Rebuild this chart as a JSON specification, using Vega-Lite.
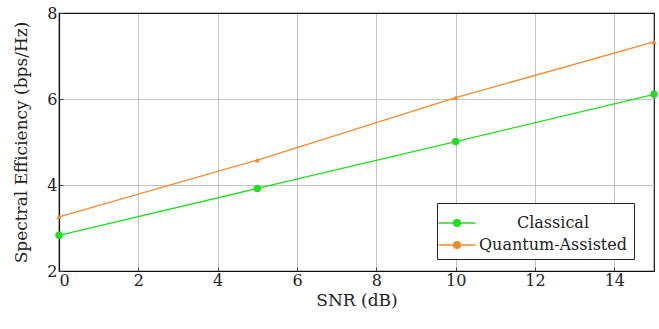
{
  "$schema": "https://vega.github.io/schema/vega-lite/v6.json",
  "autosize": {"type": "none"},
  "width": 595,
  "height": 258,
  "padding": {"left": 59, "top": 13, "right": 5, "bottom": 58},
  "background": "white",
  "config": {
    "view": {"stroke": "#111", "strokeWidth": 1.2},
    "font": "DejaVu Serif",
    "axis": {
      "labelFont": "DejaVu Serif",
      "titleFont": "DejaVu Serif",
      "labelFontSize": 16,
      "titleFontSize": 17,
      "titleFontWeight": "normal",
      "labelColor": "#222",
      "titleColor": "#222",
      "gridWidth": 1,
      "domain": true,
      "domainColor": "#111",
      "domainWidth": 1.2,
      "tickColor": "#444",
      "tickSize": -4
    },
    "legend": {
      "fillColor": "white",
      "strokeColor": "#222",
      "padding": 6,
      "labelFont": "DejaVu Serif",
      "labelFontSize": 16,
      "labelColor": "#222"
    }
  },
  "data": {
    "values": [
      {"snr": 0, "se": 2.83, "method": "Classical"},
      {"snr": 5, "se": 3.92, "method": "Classical"},
      {"snr": 10, "se": 5.01, "method": "Classical"},
      {"snr": 15, "se": 6.11, "method": "Classical"},
      {"snr": 0, "se": 3.26, "method": "Quantum-Assisted"},
      {"snr": 5, "se": 4.58, "method": "Quantum-Assisted"},
      {"snr": 10, "se": 6.03, "method": "Quantum-Assisted"},
      {"snr": 15, "se": 7.33, "method": "Quantum-Assisted"}
    ]
  },
  "encoding": {
    "x": {
      "field": "snr", "type": "quantitative",
      "scale": {"domain": [0, 15], "nice": false},
      "axis": {
        "values": [0, 2, 4, 6, 8, 10, 12, 14],
        "title": "SNR (dB)",
        "labelPadding": 5,
        "titlePadding": 4,
        "gridColor": {"condition": {"test": "datum.value === 0", "value": "#111"}, "value": "#c4c4c4"}
      }
    },
    "y": {
      "field": "se", "type": "quantitative",
      "scale": {"domain": [2, 8], "nice": false},
      "axis": {
        "values": [2, 4, 6, 8],
        "title": "Spectral Efficiency (bps/Hz)",
        "labelPadding": 6,
        "titlePadding": 16,
        "gridColor": {"condition": {"test": "datum.value === 2 || datum.value === 8", "value": "#111"}, "value": "#c4c4c4"}
      }
    },
    "color": {
      "field": "method", "type": "nominal",
      "scale": {"domain": ["Classical", "Quantum-Assisted"], "range": ["#22dd22", "#f28a2e"]},
      "legend": {
        "title": null,
        "orient": "none",
        "legendX": 378,
        "legendY": 190,
        "direction": "vertical",
        "fillColor": "white",
        "strokeColor": "#222",
        "padding": 6,
        "labelAlign": "center",
        "labelOffset": 82,
        "symbolType": "M-1.4,0H1.4M-0.26,0A0.26,0.26 0 1,0 0.26,0A0.26,0.26 0 1,0 -0.26,0Z",
        "symbolSize": 700,
        "symbolStrokeWidth": 1.3,
        "rowPadding": 0
      }
    }
  },
  "layer": [
    {
      "mark": {"type": "line", "strokeWidth": 1.3},
      "encoding": {}
    },
    {
      "transform": [{"filter": "datum.method === 'Classical'"}],
      "mark": {"type": "point", "filled": true, "opacity": 1, "shape": "circle", "size": 55},
      "encoding": {}
    },
    {
      "transform": [{"filter": "datum.method === 'Quantum-Assisted'"}],
      "mark": {"type": "point", "filled": true, "opacity": 1, "shape": "triangle-up", "size": 28},
      "encoding": {}
    }
  ]
}
